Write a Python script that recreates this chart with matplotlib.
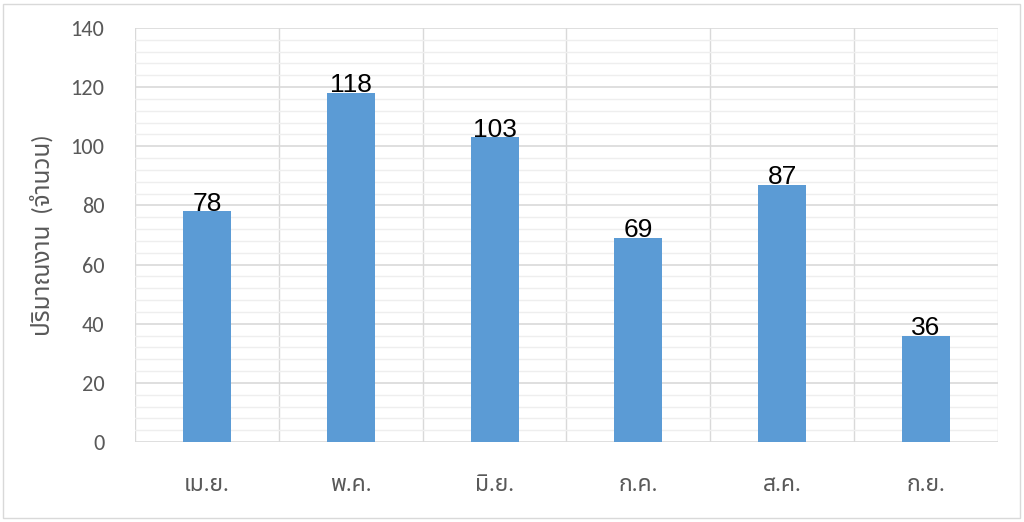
import matplotlib
matplotlib.use('Agg')
import matplotlib.pyplot as plt
from matplotlib.patches import Rectangle
from matplotlib.ticker import MultipleLocator

months = ['เม.ย.', 'พ.ค.', 'มิ.ย.', 'ก.ค.', 'ส.ค.', 'ก.ย.']
counts = [78, 118, 103, 69, 87, 36]
ylabel = 'ปริมาณงาน  (จำนวน)'

thai_fonts = ['Carlito', 'Noto Sans Thai', 'IBM Plex Sans Thai', 'Sarabun', 'DejaVu Sans']
plt.rcParams['font.family'] = thai_fonts

fig = plt.figure(figsize=(10.24, 5.22), dpi=100)
ax = fig.add_axes([135/1024, 1-442/522, (998-135)/1024, (442-28)/522])

x = list(range(len(months)))
ax.bar(x, counts, 0.333, color='#5B9BD5', zorder=3)
for xi, v in zip(x, counts):
    ax.annotate(str(v), (xi, v), xytext=(0, -3), textcoords='offset points',
                ha='center', va='bottom', fontsize=19,
                family=['Liberation Sans', 'DejaVu Sans'], color='black', zorder=4)

ax.set_xlim(-0.5, len(months) - 0.5)
ax.set_ylim(0, 140)
ax.yaxis.set_major_locator(MultipleLocator(20))
ax.yaxis.set_minor_locator(MultipleLocator(4))
ax.grid(which='major', axis='y', color='#d9d9d9', lw=1.2, zorder=0)
ax.grid(which='minor', axis='y', color='#eeeeee', lw=1, zorder=0)
for b in range(len(months) + 1):
    ax.axvline(b - 0.5, color='#d9d9d9', lw=1, zorder=1)

ax.set_xticks(x)
ax.set_xticklabels(months, fontsize=16.5, color='#595959')
ax.tick_params(axis='x', length=0, pad=24)
ax.tick_params(axis='y', which='both', length=0, labelsize=16, labelcolor='#595959', pad=22)
for s in ax.spines.values():
    s.set_visible(False)
ax.set_ylabel(ylabel, fontsize=17.5, color='#595959', labelpad=12)

fig.patches.append(Rectangle((3/1024, 4/522), 1017/1024, 514/522, transform=fig.transFigure,
                             fill=False, edgecolor='#d9d9d9', lw=1))

fig.savefig('out.png', dpi=100)
